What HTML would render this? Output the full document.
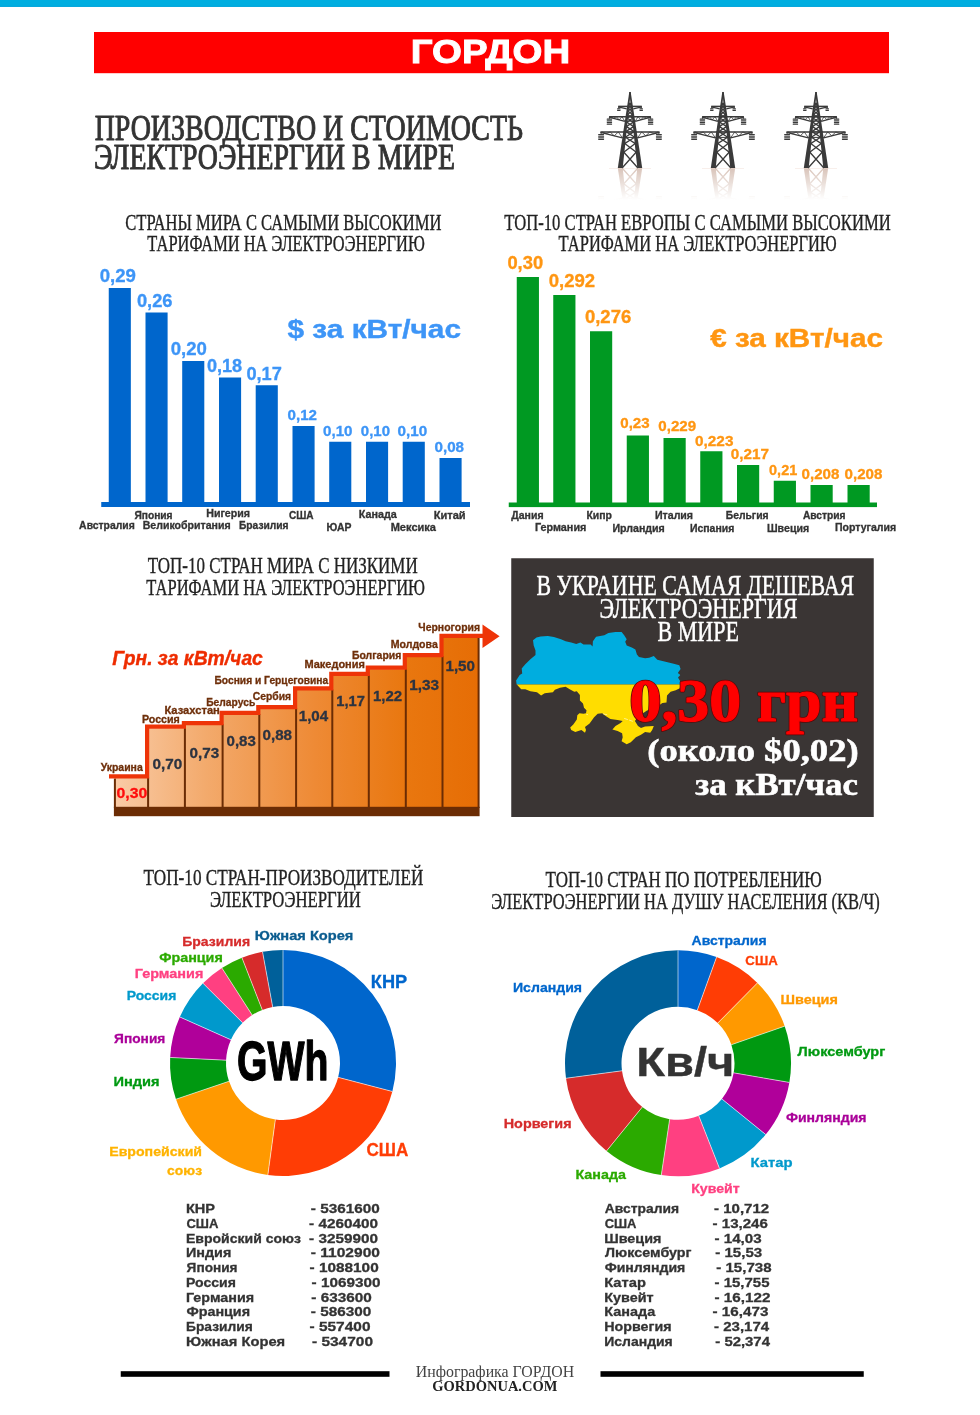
<!DOCTYPE html>
<html lang="ru"><head><meta charset="utf-8"><title>Производство и стоимость электроэнергии в мире</title>
<style>html,body{margin:0;padding:0;background:#fff}body{width:980px;height:1415px;overflow:hidden}svg{display:block}text{white-space:pre}</style>
</head><body>
<svg width="980" height="1415" viewBox="0 0 980 1415">
<defs>
<linearGradient id="gStair" gradientUnits="userSpaceOnUse" x1="115" y1="0" x2="479" y2="0"><stop offset="0" stop-color="#f9cba6"/><stop offset="0.25" stop-color="#f3aa6c"/><stop offset="0.55" stop-color="#ee8a35"/><stop offset="0.8" stop-color="#e9770f"/><stop offset="1" stop-color="#e66d05"/></linearGradient>
<linearGradient id="gRefl" gradientUnits="userSpaceOnUse" x1="0" y1="168" x2="0" y2="200"><stop offset="0" stop-color="#fff" stop-opacity="0.8"/><stop offset="1" stop-color="#fff" stop-opacity="0"/></linearGradient>
<mask id="mRefl" maskUnits="userSpaceOnUse" x="-40" y="160" width="80" height="50"><rect x="-40" y="168" width="80" height="34" fill="url(#gRefl)"/></mask>
<clipPath id="cBlue"><rect x="500" y="620" width="200" height="64.5"/></clipPath>
<clipPath id="cYellow"><rect x="500" y="684.5" width="200" height="80"/></clipPath>
</defs>
<rect width="980" height="1415" fill="#ffffff"/>
<rect x="0" y="0" width="980" height="6.8" fill="#00aee0"/><rect x="0" y="5.8" width="980" height="1" fill="#00a3da"/>
<rect x="94" y="32" width="795" height="41.2" fill="#ff0000"/>
<text x="410.75" y="62.80" font-family="'Liberation Sans', sans-serif" font-weight="bold" font-size="32.4" fill="#ffffff" textLength="159.41" lengthAdjust="spacingAndGlyphs" stroke="#ffffff" stroke-width="0.9">ГОРДОН</text>
<g stroke="#333333" stroke-width="0.95" stroke-linejoin="round">
<text x="94.64" y="140.30" font-family="'Liberation Serif', serif" font-weight="normal" font-size="35.5" fill="#333333" textLength="428.41" lengthAdjust="spacingAndGlyphs">ПРОИЗВОДСТВО И СТОИМОСТЬ</text>
<text x="93.94" y="169.30" font-family="'Liberation Serif', serif" font-weight="normal" font-size="35.5" fill="#333333" textLength="361.03" lengthAdjust="spacingAndGlyphs">ЭЛЕКТРОЭНЕРГИИ В МИРЕ</text>
</g>
<defs><g id="pylon"><polygon stroke="none" points="-0.7,92.0 0.7,92.0 -7.30,168.0 -12.20,168.0"/>
<polygon stroke="none" points="-0.7,92.0 0.7,92.0 12.20,168.0 7.30,168.0"/>
<polygon stroke="none" points="-0.8,98.0 0,91.4 0.8,98.0"/>
<path d="M-7.90,168 L6.11,152.3 M7.90,168 L-6.11,152.3 M-6.31,152.3 L5.23,143.6 M6.31,152.3 L-5.23,143.6 M-5.43,143.6 L4.58,137.2 M5.43,143.6 L-4.58,137.2 M-4.78,137.2 L4.01,131.6 M4.78,137.2 L-4.01,131.6 M-4.21,131.6 L3.51,126.6 M4.21,131.6 L-3.51,126.6 M-3.71,126.6 L3.06,122.2 M3.71,126.6 L-3.06,122.2 M-3.26,122.2 L2.65,118.2 M3.26,122.2 L-2.65,118.2 M-2.85,118.2 L2.29,114.6 M2.85,118.2 L-2.29,114.6 M-2.49,114.6 L1.95,111.2 M2.49,114.6 L-1.95,111.2 M-2.15,111.2 L1.64,108.2 M2.15,111.2 L-1.64,108.2 M-1.84,108.2 L1.36,105.4 M1.84,108.2 L-1.36,105.4 M-1.56,105.4 L1.11,103 M1.56,105.4 L-1.11,103" fill="none" stroke-width="1.3"/>
<path d="M-2.88,106.4 H2.88" fill="none" stroke-width="1"/>
<path d="M-4.42,116.6 H4.42" fill="none" stroke-width="1"/>
<path d="M-5.12,121.2 H5.12" fill="none" stroke-width="1"/>
<path d="M-6.74,131.9 H6.74" fill="none" stroke-width="1"/>
<path d="M-7.57,137.4 H7.57" fill="none" stroke-width="1"/>
<path d="M-11.8,106.4 H11.8" fill="none" stroke-width="1.5"/>
<path d="M-11.80,106.80000000000001 L-3.24,108.8" fill="none" stroke-width="1.25"/>
<path d="M11.80,106.80000000000001 L3.24,108.8" fill="none" stroke-width="1.25"/>
<path d="M-20.9,116.7 H20.9" fill="none" stroke-width="1.5"/>
<path d="M-20.90,117.10000000000001 L-5.15,121.4" fill="none" stroke-width="1.25"/>
<path d="M-19.40,116.70 L-16.55,118.29 L-13.70,116.70 L-10.85,119.84 L-8.00,116.70 L-5.15,121.40" fill="none" stroke-width="0.8"/>
<path d="M20.90,117.10000000000001 L5.15,121.4" fill="none" stroke-width="1.25"/>
<path d="M19.40,116.70 L16.55,118.29 L13.70,116.70 L10.85,119.84 L8.00,116.70 L5.15,121.40" fill="none" stroke-width="0.8"/>
<path d="M-29.5,132.0 H29.5" fill="none" stroke-width="1.5"/>
<path d="M-29.50,132.4 L-7.63,137.8" fill="none" stroke-width="1.25"/>
<path d="M-28.00,132.00 L-23.93,133.78 L-19.85,132.00 L-15.78,135.79 L-11.70,132.00 L-7.63,137.80" fill="none" stroke-width="0.8"/>
<path d="M29.50,132.4 L7.63,137.8" fill="none" stroke-width="1.25"/>
<path d="M28.00,132.00 L23.93,133.78 L19.85,132.00 L15.78,135.79 L11.70,132.00 L7.63,137.80" fill="none" stroke-width="0.8"/>
<rect stroke="none" x="-11.70" y="106.70" width="1" height="1.8"/>
<rect stroke="none" x="-13.00" y="108.30" width="3.6" height="1.15" rx="0.5"/>
<rect stroke="none" x="-13.00" y="109.95" width="3.6" height="1.15" rx="0.5"/>
<rect stroke="none" x="-21.10" y="117.00" width="1" height="1.8"/>
<rect stroke="none" x="-23.30" y="118.60" width="5.4" height="1.15" rx="0.5"/>
<rect stroke="none" x="-23.30" y="120.25" width="5.4" height="1.15" rx="0.5"/>
<rect stroke="none" x="-23.30" y="121.90" width="5.4" height="1.15" rx="0.5"/>
<rect stroke="none" x="-23.30" y="123.55" width="5.4" height="1.15" rx="0.5"/>
<rect stroke="none" x="-29.40" y="132.40" width="1" height="1.8"/>
<rect stroke="none" x="-31.90" y="134.00" width="6.0" height="1.15" rx="0.5"/>
<rect stroke="none" x="-31.90" y="135.65" width="6.0" height="1.15" rx="0.5"/>
<rect stroke="none" x="-31.90" y="137.30" width="6.0" height="1.15" rx="0.5"/>
<rect stroke="none" x="-31.90" y="138.95" width="6.0" height="1.15" rx="0.5"/>
<rect stroke="none" x="10.70" y="106.70" width="1" height="1.8"/>
<rect stroke="none" x="9.40" y="108.30" width="3.6" height="1.15" rx="0.5"/>
<rect stroke="none" x="9.40" y="109.95" width="3.6" height="1.15" rx="0.5"/>
<rect stroke="none" x="20.10" y="117.00" width="1" height="1.8"/>
<rect stroke="none" x="17.90" y="118.60" width="5.4" height="1.15" rx="0.5"/>
<rect stroke="none" x="17.90" y="120.25" width="5.4" height="1.15" rx="0.5"/>
<rect stroke="none" x="17.90" y="121.90" width="5.4" height="1.15" rx="0.5"/>
<rect stroke="none" x="17.90" y="123.55" width="5.4" height="1.15" rx="0.5"/>
<rect stroke="none" x="28.40" y="132.40" width="1" height="1.8"/>
<rect stroke="none" x="25.90" y="134.00" width="6.0" height="1.15" rx="0.5"/>
<rect stroke="none" x="25.90" y="135.65" width="6.0" height="1.15" rx="0.5"/>
<rect stroke="none" x="25.90" y="137.30" width="6.0" height="1.15" rx="0.5"/>
<rect stroke="none" x="25.90" y="138.95" width="6.0" height="1.15" rx="0.5"/></g></defs>
<g transform="translate(630,0)">
<g mask="url(#mRefl)"><use href="#pylon" transform="translate(0,336) scale(1,-1)" fill="#cfb5a8" stroke="#cfb5a8"/></g>
<rect x="-21" y="168" width="42" height="0.7" fill="#ecd9cf" opacity="0.6"/>
<use href="#pylon" fill="#3a3a3a" stroke="#3a3a3a"/>
</g>
<g transform="translate(723,0)">
<g mask="url(#mRefl)"><use href="#pylon" transform="translate(0,336) scale(1,-1)" fill="#cfb5a8" stroke="#cfb5a8"/></g>
<rect x="-21" y="168" width="42" height="0.7" fill="#ecd9cf" opacity="0.6"/>
<use href="#pylon" fill="#3a3a3a" stroke="#3a3a3a"/>
</g>
<g transform="translate(816,0)">
<g mask="url(#mRefl)"><use href="#pylon" transform="translate(0,336) scale(1,-1)" fill="#cfb5a8" stroke="#cfb5a8"/></g>
<rect x="-21" y="168" width="42" height="0.7" fill="#ecd9cf" opacity="0.6"/>
<use href="#pylon" fill="#3a3a3a" stroke="#3a3a3a"/>
</g>
<g stroke="#222" stroke-width="0.35">
<text x="125.26" y="229.50" font-family="'Liberation Serif', serif" font-weight="normal" font-size="23.2" fill="#222222" textLength="316.27" lengthAdjust="spacingAndGlyphs">СТРАНЫ МИРА С САМЫМИ ВЫСОКИМИ</text>
<text x="147.35" y="251.25" font-family="'Liberation Serif', serif" font-weight="normal" font-size="23.2" fill="#222222" textLength="277.45" lengthAdjust="spacingAndGlyphs">ТАРИФАМИ НА ЭЛЕКТРОЭНЕРГИЮ</text>
<text x="504.34" y="229.50" font-family="'Liberation Serif', serif" font-weight="normal" font-size="23.2" fill="#222222" textLength="386.42" lengthAdjust="spacingAndGlyphs">ТОП-10 СТРАН ЕВРОПЫ С САМЫМИ ВЫСОКИМИ</text>
<text x="558.60" y="251.25" font-family="'Liberation Serif', serif" font-weight="normal" font-size="23.2" fill="#222222" textLength="278.20" lengthAdjust="spacingAndGlyphs">ТАРИФАМИ НА ЭЛЕКТРОЭНЕРГИЮ</text>
<text x="147.64" y="572.80" font-family="'Liberation Serif', serif" font-weight="normal" font-size="23.2" fill="#222222" textLength="270.12" lengthAdjust="spacingAndGlyphs">ТОП-10 СТРАН МИРА С НИЗКИМИ</text>
<text x="146.35" y="595.30" font-family="'Liberation Serif', serif" font-weight="normal" font-size="23.2" fill="#222222" textLength="278.70" lengthAdjust="spacingAndGlyphs">ТАРИФАМИ НА ЭЛЕКТРОЭНЕРГИЮ</text>
<text x="143.58" y="884.50" font-family="'Liberation Serif', serif" font-weight="normal" font-size="23.2" fill="#222222" textLength="279.73" lengthAdjust="spacingAndGlyphs">ТОП-10 СТРАН-ПРОИЗВОДИТЕЛЕЙ</text>
<text x="210.01" y="907.00" font-family="'Liberation Serif', serif" font-weight="normal" font-size="23.2" fill="#222222" textLength="150.76" lengthAdjust="spacingAndGlyphs">ЭЛЕКТРОЭНЕРГИИ</text>
<text x="545.59" y="886.60" font-family="'Liberation Serif', serif" font-weight="normal" font-size="23.2" fill="#222222" textLength="276.22" lengthAdjust="spacingAndGlyphs">ТОП-10 СТРАН ПО ПОТРЕБЛЕНИЮ</text>
<text x="491.27" y="909.10" font-family="'Liberation Serif', serif" font-weight="normal" font-size="23.2" fill="#222222" textLength="388.51" lengthAdjust="spacingAndGlyphs">ЭЛЕКТРОЭНЕРГИИ НА ДУШУ НАСЕЛЕНИЯ (КВ/Ч)</text>
</g>
<g fill="#0066cc">
<rect x="101.25" y="502" width="368.75" height="5"/>
<rect x="108.75" y="288" width="22.1" height="215"/>
<rect x="145.5" y="312.5" width="22.1" height="190.5"/>
<rect x="182.2" y="361" width="22.1" height="142"/>
<rect x="219" y="377.5" width="22.1" height="125.5"/>
<rect x="255.7" y="385.25" width="22.1" height="117.75"/>
<rect x="292.5" y="426" width="22.1" height="77"/>
<rect x="329.2" y="441.75" width="22.1" height="61.25"/>
<rect x="366" y="441.75" width="22.1" height="61.25"/>
<rect x="402.7" y="441.75" width="22.1" height="61.25"/>
<rect x="439.5" y="458" width="22.1" height="45"/>
</g>
<text x="99.71" y="282.40" font-family="'Liberation Sans', sans-serif" font-weight="bold" font-size="17.7" fill="#3d95f7" textLength="36.22" lengthAdjust="spacingAndGlyphs" stroke="#3d95f7" stroke-width="0.3">0,29</text>
<text x="136.92" y="306.50" font-family="'Liberation Sans', sans-serif" font-weight="bold" font-size="17.7" fill="#3d95f7" textLength="35.60" lengthAdjust="spacingAndGlyphs" stroke="#3d95f7" stroke-width="0.3">0,26</text>
<text x="170.66" y="354.50" font-family="'Liberation Sans', sans-serif" font-weight="bold" font-size="17.7" fill="#3d95f7" textLength="36.21" lengthAdjust="spacingAndGlyphs" stroke="#3d95f7" stroke-width="0.3">0,20</text>
<text x="206.93" y="371.50" font-family="'Liberation Sans', sans-serif" font-weight="bold" font-size="17.7" fill="#3d95f7" textLength="35.24" lengthAdjust="spacingAndGlyphs" stroke="#3d95f7" stroke-width="0.3">0,18</text>
<text x="246.42" y="379.50" font-family="'Liberation Sans', sans-serif" font-weight="bold" font-size="17.7" fill="#3d95f7" textLength="35.43" lengthAdjust="spacingAndGlyphs" stroke="#3d95f7" stroke-width="0.3">0,17</text>
<text x="287.55" y="420.20" font-family="'Liberation Sans', sans-serif" font-weight="bold" font-size="14" fill="#3d95f7" textLength="29.43" lengthAdjust="spacingAndGlyphs" stroke="#3d95f7" stroke-width="0.3">0,12</text>
<text x="323.05" y="436.40" font-family="'Liberation Sans', sans-serif" font-weight="bold" font-size="14" fill="#3d95f7" textLength="29.43" lengthAdjust="spacingAndGlyphs" stroke="#3d95f7" stroke-width="0.3">0,10</text>
<text x="360.80" y="436.40" font-family="'Liberation Sans', sans-serif" font-weight="bold" font-size="14" fill="#3d95f7" textLength="29.17" lengthAdjust="spacingAndGlyphs" stroke="#3d95f7" stroke-width="0.3">0,10</text>
<text x="397.54" y="436.40" font-family="'Liberation Sans', sans-serif" font-weight="bold" font-size="14" fill="#3d95f7" textLength="29.69" lengthAdjust="spacingAndGlyphs" stroke="#3d95f7" stroke-width="0.3">0,10</text>
<text x="434.54" y="452.00" font-family="'Liberation Sans', sans-serif" font-weight="bold" font-size="14" fill="#3d95f7" textLength="29.53" lengthAdjust="spacingAndGlyphs" stroke="#3d95f7" stroke-width="0.3">0,08</text>
<text x="287.50" y="338.40" font-family="'Liberation Sans', sans-serif" font-weight="bold" font-size="25.4" fill="#3d95f7" textLength="173.54" lengthAdjust="spacingAndGlyphs" stroke="#3d95f7" stroke-width="0.4">$ за кВт/час</text>
<text x="79.14" y="529.25" font-family="'Liberation Sans', sans-serif" font-weight="bold" font-size="10.3" fill="#333333" textLength="55.67" lengthAdjust="spacingAndGlyphs" stroke="#333333" stroke-width="0.3">Австралия</text>
<text x="134.45" y="518.75" font-family="'Liberation Sans', sans-serif" font-weight="bold" font-size="10.3" fill="#333333" textLength="38.13" lengthAdjust="spacingAndGlyphs" stroke="#333333" stroke-width="0.3">Япония</text>
<text x="142.71" y="529.25" font-family="'Liberation Sans', sans-serif" font-weight="bold" font-size="10.3" fill="#333333" textLength="87.85" lengthAdjust="spacingAndGlyphs" stroke="#333333" stroke-width="0.3">Великобритания</text>
<text x="206.21" y="516.75" font-family="'Liberation Sans', sans-serif" font-weight="bold" font-size="10.3" fill="#333333" textLength="43.87" lengthAdjust="spacingAndGlyphs" stroke="#333333" stroke-width="0.3">Нигерия</text>
<text x="238.98" y="529.25" font-family="'Liberation Sans', sans-serif" font-weight="bold" font-size="10.3" fill="#333333" textLength="49.56" lengthAdjust="spacingAndGlyphs" stroke="#333333" stroke-width="0.3">Бразилия</text>
<text x="289.00" y="518.75" font-family="'Liberation Sans', sans-serif" font-weight="bold" font-size="10.3" fill="#333333" textLength="24.65" lengthAdjust="spacingAndGlyphs" stroke="#333333" stroke-width="0.3">США</text>
<text x="326.47" y="530.75" font-family="'Liberation Sans', sans-serif" font-weight="bold" font-size="10.3" fill="#333333" textLength="24.94" lengthAdjust="spacingAndGlyphs" stroke="#333333" stroke-width="0.3">ЮАР</text>
<text x="358.70" y="517.50" font-family="'Liberation Sans', sans-serif" font-weight="bold" font-size="10.3" fill="#333333" textLength="38.04" lengthAdjust="spacingAndGlyphs" stroke="#333333" stroke-width="0.3">Канада</text>
<text x="390.68" y="530.75" font-family="'Liberation Sans', sans-serif" font-weight="bold" font-size="10.3" fill="#333333" textLength="45.30" lengthAdjust="spacingAndGlyphs" stroke="#333333" stroke-width="0.3">Мексика</text>
<text x="433.68" y="518.75" font-family="'Liberation Sans', sans-serif" font-weight="bold" font-size="10.3" fill="#333333" textLength="31.95" lengthAdjust="spacingAndGlyphs" stroke="#333333" stroke-width="0.3">Китай</text>
<g fill="#009922">
<rect x="508.75" y="502.5" width="368.25" height="4.6"/>
<rect x="516.75" y="277" width="22.2" height="226.5"/>
<rect x="553.25" y="295" width="22.2" height="208.5"/>
<rect x="590" y="331.25" width="22.2" height="172.25"/>
<rect x="626.75" y="435.5" width="22.2" height="68.0"/>
<rect x="663.5" y="438" width="22.2" height="65.5"/>
<rect x="700.25" y="451.25" width="22.2" height="52.25"/>
<rect x="737" y="465" width="22.2" height="38.5"/>
<rect x="773.75" y="480.75" width="22.2" height="22.75"/>
<rect x="810.5" y="485" width="22.2" height="18.5"/>
<rect x="847.5" y="485" width="22.2" height="18.5"/>
</g>
<text x="507.42" y="269.00" font-family="'Liberation Sans', sans-serif" font-weight="bold" font-size="17.7" fill="#ff9612" textLength="35.69" lengthAdjust="spacingAndGlyphs" stroke="#ff9612" stroke-width="0.3">0,30</text>
<text x="548.66" y="287.30" font-family="'Liberation Sans', sans-serif" font-weight="bold" font-size="17.7" fill="#ff9612" textLength="46.48" lengthAdjust="spacingAndGlyphs" stroke="#ff9612" stroke-width="0.3">0,292</text>
<text x="584.91" y="323.30" font-family="'Liberation Sans', sans-serif" font-weight="bold" font-size="17.7" fill="#ff9612" textLength="46.39" lengthAdjust="spacingAndGlyphs" stroke="#ff9612" stroke-width="0.3">0,276</text>
<text x="620.30" y="428.20" font-family="'Liberation Sans', sans-serif" font-weight="bold" font-size="14" fill="#ff9612" textLength="29.35" lengthAdjust="spacingAndGlyphs" stroke="#ff9612" stroke-width="0.3">0,23</text>
<text x="658.29" y="430.50" font-family="'Liberation Sans', sans-serif" font-weight="bold" font-size="14" fill="#ff9612" textLength="37.87" lengthAdjust="spacingAndGlyphs" stroke="#ff9612" stroke-width="0.3">0,229</text>
<text x="695.04" y="446.00" font-family="'Liberation Sans', sans-serif" font-weight="bold" font-size="14" fill="#ff9612" textLength="38.39" lengthAdjust="spacingAndGlyphs" stroke="#ff9612" stroke-width="0.3">0,223</text>
<text x="730.79" y="459.00" font-family="'Liberation Sans', sans-serif" font-weight="bold" font-size="14" fill="#ff9612" textLength="38.21" lengthAdjust="spacingAndGlyphs" stroke="#ff9612" stroke-width="0.3">0,217</text>
<text x="769.07" y="474.70" font-family="'Liberation Sans', sans-serif" font-weight="bold" font-size="14" fill="#ff9612" textLength="28.16" lengthAdjust="spacingAndGlyphs" stroke="#ff9612" stroke-width="0.3">0,21</text>
<text x="801.55" y="478.70" font-family="'Liberation Sans', sans-serif" font-weight="bold" font-size="14" fill="#ff9612" textLength="37.79" lengthAdjust="spacingAndGlyphs" stroke="#ff9612" stroke-width="0.3">0,208</text>
<text x="844.55" y="478.70" font-family="'Liberation Sans', sans-serif" font-weight="bold" font-size="14" fill="#ff9612" textLength="37.79" lengthAdjust="spacingAndGlyphs" stroke="#ff9612" stroke-width="0.3">0,208</text>
<text x="710.15" y="346.70" font-family="'Liberation Sans', sans-serif" font-weight="bold" font-size="25.7" fill="#ff9612" textLength="172.79" lengthAdjust="spacingAndGlyphs" stroke="#ff9612" stroke-width="0.4">€ за кВт/час</text>
<text x="511.29" y="518.75" font-family="'Liberation Sans', sans-serif" font-weight="bold" font-size="10.3" fill="#333333" textLength="32.30" lengthAdjust="spacingAndGlyphs" stroke="#333333" stroke-width="0.3">Дания</text>
<text x="534.95" y="531.25" font-family="'Liberation Sans', sans-serif" font-weight="bold" font-size="10.3" fill="#333333" textLength="51.41" lengthAdjust="spacingAndGlyphs" stroke="#333333" stroke-width="0.3">Германия</text>
<text x="586.47" y="518.75" font-family="'Liberation Sans', sans-serif" font-weight="bold" font-size="10.3" fill="#333333" textLength="25.55" lengthAdjust="spacingAndGlyphs" stroke="#333333" stroke-width="0.3">Кипр</text>
<text x="612.46" y="531.50" font-family="'Liberation Sans', sans-serif" font-weight="bold" font-size="10.3" fill="#333333" textLength="52.36" lengthAdjust="spacingAndGlyphs" stroke="#333333" stroke-width="0.3">Ирландия</text>
<text x="654.96" y="518.75" font-family="'Liberation Sans', sans-serif" font-weight="bold" font-size="10.3" fill="#333333" textLength="38.11" lengthAdjust="spacingAndGlyphs" stroke="#333333" stroke-width="0.3">Италия</text>
<text x="689.97" y="531.50" font-family="'Liberation Sans', sans-serif" font-weight="bold" font-size="10.3" fill="#333333" textLength="44.33" lengthAdjust="spacingAndGlyphs" stroke="#333333" stroke-width="0.3">Испания</text>
<text x="725.73" y="518.75" font-family="'Liberation Sans', sans-serif" font-weight="bold" font-size="10.3" fill="#333333" textLength="42.84" lengthAdjust="spacingAndGlyphs" stroke="#333333" stroke-width="0.3">Бельгия</text>
<text x="766.96" y="531.50" font-family="'Liberation Sans', sans-serif" font-weight="bold" font-size="10.3" fill="#333333" textLength="42.14" lengthAdjust="spacingAndGlyphs" stroke="#333333" stroke-width="0.3">Швеция</text>
<text x="802.89" y="518.75" font-family="'Liberation Sans', sans-serif" font-weight="bold" font-size="10.3" fill="#333333" textLength="42.64" lengthAdjust="spacingAndGlyphs" stroke="#333333" stroke-width="0.3">Австрия</text>
<text x="834.97" y="531.25" font-family="'Liberation Sans', sans-serif" font-weight="bold" font-size="10.3" fill="#333333" textLength="61.11" lengthAdjust="spacingAndGlyphs" stroke="#333333" stroke-width="0.3">Португалия</text>
<g fill="url(#gStair)">
<rect x="114.9" y="778.00" width="33.20" height="29.50"/>
<rect x="148.1" y="728.30" width="36.80" height="79.20"/>
<rect x="184.9" y="724.70" width="37.70" height="82.80"/>
<rect x="222.6" y="714.50" width="36.70" height="93.00"/>
<rect x="259.3" y="708.70" width="36.80" height="98.80"/>
<rect x="296.1" y="690.00" width="36.20" height="117.50"/>
<rect x="332.3" y="675.50" width="36.50" height="132.00"/>
<rect x="368.8" y="669.20" width="37.00" height="138.30"/>
<rect x="405.8" y="656.70" width="36.70" height="150.80"/>
<rect x="442.5" y="637.50" width="36.10" height="170.00"/>
</g>
<g fill="#6b2c04">
<rect x="113.90" y="778.50" width="2" height="29.50"/>
<rect x="147.10" y="777.50" width="2" height="30.50"/>
<rect x="183.90" y="727.80" width="2" height="80.20"/>
<rect x="221.60" y="724.20" width="2" height="83.80"/>
<rect x="258.30" y="714.00" width="2" height="94.00"/>
<rect x="295.10" y="708.20" width="2" height="99.80"/>
<rect x="331.30" y="689.50" width="2" height="118.50"/>
<rect x="367.80" y="675.00" width="2" height="133.00"/>
<rect x="404.80" y="668.70" width="2" height="139.30"/>
<rect x="441.50" y="656.20" width="2" height="151.80"/>
<rect x="477.60" y="638.00" width="2" height="170.00"/>
<rect x="113.9" y="806.8" width="365.7" height="9.4"/>
</g>
<path d="M109.00,776.40 L147.10,776.40 L147.10,726.70 L183.90,726.70 L183.90,723.10 L221.60,723.10 L221.60,712.90 L258.30,712.90 L258.30,707.10 L295.10,707.10 L295.10,688.40 L331.30,688.40 L331.30,673.90 L367.80,673.90 L367.80,667.60 L404.80,667.60 L404.80,655.10 L441.50,655.10 L441.50,635.90 L484.00,635.90" fill="none" stroke="#ee3408" stroke-width="4.2" stroke-linejoin="miter"/>
<polygon points="482.5,624.4 499.6,636.2 482.5,648.1" fill="#ee3408"/>
<text x="116.52" y="797.50" font-family="'Liberation Sans', sans-serif" font-weight="bold" font-size="14.2" fill="#ff0d0d" textLength="30.73" lengthAdjust="spacingAndGlyphs" stroke="#ff0d0d" stroke-width="0.3">0,30</text>
<text x="152.54" y="769.25" font-family="'Liberation Sans', sans-serif" font-weight="bold" font-size="14.2" fill="#2c3340" textLength="29.69" lengthAdjust="spacingAndGlyphs" stroke="#2c3340" stroke-width="0.3">0,70</text>
<text x="189.54" y="757.50" font-family="'Liberation Sans', sans-serif" font-weight="bold" font-size="14.2" fill="#2c3340" textLength="29.61" lengthAdjust="spacingAndGlyphs" stroke="#2c3340" stroke-width="0.3">0,73</text>
<text x="226.55" y="745.75" font-family="'Liberation Sans', sans-serif" font-weight="bold" font-size="14.2" fill="#2c3340" textLength="29.35" lengthAdjust="spacingAndGlyphs" stroke="#2c3340" stroke-width="0.3">0,83</text>
<text x="262.54" y="739.50" font-family="'Liberation Sans', sans-serif" font-weight="bold" font-size="14.2" fill="#2c3340" textLength="29.53" lengthAdjust="spacingAndGlyphs" stroke="#2c3340" stroke-width="0.3">0,88</text>
<text x="298.74" y="721.00" font-family="'Liberation Sans', sans-serif" font-weight="bold" font-size="14.2" fill="#2c3340" textLength="29.45" lengthAdjust="spacingAndGlyphs" stroke="#2c3340" stroke-width="0.3">1,04</text>
<text x="336.27" y="706.25" font-family="'Liberation Sans', sans-serif" font-weight="bold" font-size="14.2" fill="#2c3340" textLength="28.69" lengthAdjust="spacingAndGlyphs" stroke="#2c3340" stroke-width="0.3">1,17</text>
<text x="373.00" y="700.50" font-family="'Liberation Sans', sans-serif" font-weight="bold" font-size="14.2" fill="#2c3340" textLength="29.22" lengthAdjust="spacingAndGlyphs" stroke="#2c3340" stroke-width="0.3">1,22</text>
<text x="409.23" y="690.00" font-family="'Liberation Sans', sans-serif" font-weight="bold" font-size="14.2" fill="#2c3340" textLength="29.93" lengthAdjust="spacingAndGlyphs" stroke="#2c3340" stroke-width="0.3">1,33</text>
<text x="445.49" y="671.25" font-family="'Liberation Sans', sans-serif" font-weight="bold" font-size="14.2" fill="#2c3340" textLength="29.49" lengthAdjust="spacingAndGlyphs" stroke="#2c3340" stroke-width="0.3">1,50</text>
<text x="100.65" y="771.25" font-family="'Liberation Sans', sans-serif" font-weight="bold" font-size="10.5" fill="#6e2f0a" textLength="42.11" lengthAdjust="spacingAndGlyphs" stroke="#6e2f0a" stroke-width="0.3">Украина</text>
<text x="141.96" y="722.50" font-family="'Liberation Sans', sans-serif" font-weight="bold" font-size="10.5" fill="#6e2f0a" textLength="37.90" lengthAdjust="spacingAndGlyphs" stroke="#6e2f0a" stroke-width="0.3">Россия</text>
<text x="164.42" y="713.75" font-family="'Liberation Sans', sans-serif" font-weight="bold" font-size="10.5" fill="#6e2f0a" textLength="55.44" lengthAdjust="spacingAndGlyphs" stroke="#6e2f0a" stroke-width="0.3">Казахстан</text>
<text x="206.23" y="706.25" font-family="'Liberation Sans', sans-serif" font-weight="bold" font-size="10.5" fill="#6e2f0a" textLength="49.04" lengthAdjust="spacingAndGlyphs" stroke="#6e2f0a" stroke-width="0.3">Беларусь</text>
<text x="252.74" y="699.50" font-family="'Liberation Sans', sans-serif" font-weight="bold" font-size="10.5" fill="#6e2f0a" textLength="38.34" lengthAdjust="spacingAndGlyphs" stroke="#6e2f0a" stroke-width="0.3">Сербия</text>
<text x="214.48" y="683.75" font-family="'Liberation Sans', sans-serif" font-weight="bold" font-size="10.5" fill="#6e2f0a" textLength="113.80" lengthAdjust="spacingAndGlyphs" stroke="#6e2f0a" stroke-width="0.3">Босния и Герцеговина</text>
<text x="304.44" y="668.00" font-family="'Liberation Sans', sans-serif" font-weight="bold" font-size="10.5" fill="#6e2f0a" textLength="60.44" lengthAdjust="spacingAndGlyphs" stroke="#6e2f0a" stroke-width="0.3">Македония</text>
<text x="351.97" y="658.75" font-family="'Liberation Sans', sans-serif" font-weight="bold" font-size="10.5" fill="#6e2f0a" textLength="49.33" lengthAdjust="spacingAndGlyphs" stroke="#6e2f0a" stroke-width="0.3">Болгария</text>
<text x="390.71" y="648.25" font-family="'Liberation Sans', sans-serif" font-weight="bold" font-size="10.5" fill="#6e2f0a" textLength="47.06" lengthAdjust="spacingAndGlyphs" stroke="#6e2f0a" stroke-width="0.3">Молдова</text>
<text x="418.33" y="630.75" font-family="'Liberation Sans', sans-serif" font-weight="bold" font-size="10.5" fill="#6e2f0a" textLength="61.73" lengthAdjust="spacingAndGlyphs" stroke="#6e2f0a" stroke-width="0.3">Черногория</text>
<text x="112.31" y="664.90" font-family="'Liberation Sans', sans-serif" font-weight="bold" font-style="italic" font-size="20.6" fill="#ee2c00" textLength="150.57" lengthAdjust="spacingAndGlyphs" stroke="#ee2c00" stroke-width="0.4">Грн. за кВт/час</text>
<rect x="511.25" y="558.25" width="362.5" height="258.75" fill="#3a3534"/>
<path d="M533.0,640.3 L536.5,637.6 L540.6,636.4 L547.8,636.0 L553.9,637.0 L561.0,639.3 L565.6,641.3 L571.2,642.6 L576.3,643.9 L580.4,642.6 L583.5,644.6 L590.6,644.4 L592.6,646.6 L592.9,641.3 L596.1,636.7 L604.3,635.2 L608.4,633.0 L615.5,631.9 L621.6,631.9 L624.2,635.2 L626.7,639.3 L625.2,641.8 L626.7,645.4 L631.8,647.4 L635.4,649.5 L636.9,654.6 L639,657.1 L645.1,658.2 L649.2,657.7 L653.8,656.1 L657.3,659.7 L661.4,660.7 L667.6,662.2 L673.7,663.8 L679.3,665.3 L680.6,668.9 L677.8,673 L680.3,675 L678,677.6 L680.6,682.1 L679.8,688.3 L675.7,690.3 L670.6,691.8 L667,695.4 L666.5,702.6 L662.4,703.1 L656,707.5 L647,710.5 L641,714.5 L635.9,719.4 L634.9,720.9 L638,726 L641,728.1 L645.1,726.5 L653.8,726 L652.2,730.1 L650.2,732.7 L645.1,732.1 L641,734.7 L635.9,737.2 L630.8,742.3 L626.7,744.2 L621.6,741.3 L622.7,737.2 L622.1,733.2 L617.6,731.1 L612.4,729.6 L615.5,726 L620.6,723 L622.7,720.9 L617.6,719.9 L610.4,718.9 L605.3,715.8 L602.2,713.3 L597.7,713.8 L594.1,717.3 L589.6,723.5 L585,727 L586,730.1 L585,732.7 L581.4,730.1 L575.3,732.1 L571.2,730.1 L570.2,727.6 L573.3,724.5 L576.8,719.4 L577.3,715.3 L579.4,713.3 L583.5,713.8 L586,713.3 L586.5,710.2 L584,707.7 L583,703.6 L579.9,700.5 L579.9,694.9 L576.8,691.3 L574.3,691.8 L569.7,689.3 L565.6,686.7 L560,687.8 L554.9,689.8 L552.9,692.3 L544.7,693.2 L541.1,695.4 L537,692.3 L530.4,691.3 L525.3,689.3 L521.2,689.3 L516.6,684.2 L516.1,680.6 L519.7,675 L522.2,673.5 L521.7,668.4 L525.3,664.3 L530.4,659.2 L535.5,655.1 L535.5,650.5 L533.7,645.4 Z" fill="#00addf" clip-path="url(#cBlue)"/>
<path d="M533.0,640.3 L536.5,637.6 L540.6,636.4 L547.8,636.0 L553.9,637.0 L561.0,639.3 L565.6,641.3 L571.2,642.6 L576.3,643.9 L580.4,642.6 L583.5,644.6 L590.6,644.4 L592.6,646.6 L592.9,641.3 L596.1,636.7 L604.3,635.2 L608.4,633.0 L615.5,631.9 L621.6,631.9 L624.2,635.2 L626.7,639.3 L625.2,641.8 L626.7,645.4 L631.8,647.4 L635.4,649.5 L636.9,654.6 L639,657.1 L645.1,658.2 L649.2,657.7 L653.8,656.1 L657.3,659.7 L661.4,660.7 L667.6,662.2 L673.7,663.8 L679.3,665.3 L680.6,668.9 L677.8,673 L680.3,675 L678,677.6 L680.6,682.1 L679.8,688.3 L675.7,690.3 L670.6,691.8 L667,695.4 L666.5,702.6 L662.4,703.1 L656,707.5 L647,710.5 L641,714.5 L635.9,719.4 L634.9,720.9 L638,726 L641,728.1 L645.1,726.5 L653.8,726 L652.2,730.1 L650.2,732.7 L645.1,732.1 L641,734.7 L635.9,737.2 L630.8,742.3 L626.7,744.2 L621.6,741.3 L622.7,737.2 L622.1,733.2 L617.6,731.1 L612.4,729.6 L615.5,726 L620.6,723 L622.7,720.9 L617.6,719.9 L610.4,718.9 L605.3,715.8 L602.2,713.3 L597.7,713.8 L594.1,717.3 L589.6,723.5 L585,727 L586,730.1 L585,732.7 L581.4,730.1 L575.3,732.1 L571.2,730.1 L570.2,727.6 L573.3,724.5 L576.8,719.4 L577.3,715.3 L579.4,713.3 L583.5,713.8 L586,713.3 L586.5,710.2 L584,707.7 L583,703.6 L579.9,700.5 L579.9,694.9 L576.8,691.3 L574.3,691.8 L569.7,689.3 L565.6,686.7 L560,687.8 L554.9,689.8 L552.9,692.3 L544.7,693.2 L541.1,695.4 L537,692.3 L530.4,691.3 L525.3,689.3 L521.2,689.3 L516.6,684.2 L516.1,680.6 L519.7,675 L522.2,673.5 L521.7,668.4 L525.3,664.3 L530.4,659.2 L535.5,655.1 L535.5,650.5 L533.7,645.4 Z" fill="#ffdd00" clip-path="url(#cYellow)"/>
<path d="M586.8,714.2 l1.4,1.4 M603.5,714 l4,0.9 M624.5,718.5 l3,1 M629.5,720.2 l3.5,1.2" stroke="#fff" stroke-width="0.9" fill="none" stroke-dasharray="1.2 0.8"/>
<g stroke="#fff" stroke-width="0.45">
<text x="536.57" y="594.50" font-family="'Liberation Serif', serif" font-weight="normal" font-size="28.6" fill="#ffffff" textLength="317.54" lengthAdjust="spacingAndGlyphs">В УКРАИНЕ САМАЯ ДЕШЕВАЯ</text>
<text x="599.51" y="617.50" font-family="'Liberation Serif', serif" font-weight="normal" font-size="28.6" fill="#ffffff" textLength="197.85" lengthAdjust="spacingAndGlyphs">ЭЛЕКТРОЭНЕРГИЯ</text>
<text x="657.56" y="640.90" font-family="'Liberation Serif', serif" font-weight="normal" font-size="28.6" fill="#ffffff" textLength="81.32" lengthAdjust="spacingAndGlyphs">В МИРЕ</text>
</g>
<text x="629.50" y="721.10" font-family="'Liberation Serif', serif" font-weight="bold" font-size="61" fill="#5a0808" textLength="228.84" lengthAdjust="spacingAndGlyphs" stroke="#5a0808" stroke-width="2.6" stroke-linejoin="round">0,30 грн</text>
<text x="629.50" y="721.10" font-family="'Liberation Serif', serif" font-weight="bold" font-size="61" fill="#ff0000" textLength="228.84" lengthAdjust="spacingAndGlyphs" stroke="#ff0000" stroke-width="1.1" stroke-linejoin="round">0,30 грн</text>
<text x="647.25" y="760.60" font-family="'Liberation Serif', serif" font-weight="bold" font-size="32" fill="#ffffff" textLength="211.38" lengthAdjust="spacingAndGlyphs" stroke="#ffffff" stroke-width="0.6">(около $0,02)</text>
<text x="695.25" y="795.00" font-family="'Liberation Serif', serif" font-weight="bold" font-size="31.5" fill="#ffffff" textLength="162.61" lengthAdjust="spacingAndGlyphs" stroke="#ffffff" stroke-width="0.6">за кВт/час</text>
<path d="M283.00,950.00 A113,113 0 0 1 392.35,1091.47 L338.16,1077.36 A57,57 0 0 0 283.00,1006.00 Z" fill="#0066cc"/>
<path d="M392.35,1091.47 A113,113 0 0 1 267.85,1174.98 L275.36,1119.49 A57,57 0 0 0 338.16,1077.36 Z" fill="#ff3d05"/>
<path d="M267.85,1174.98 A113,113 0 0 1 175.97,1099.23 L229.01,1081.28 A57,57 0 0 0 275.36,1119.49 Z" fill="#ff9900"/>
<path d="M175.97,1099.23 A113,113 0 0 1 170.14,1057.46 L226.07,1060.20 A57,57 0 0 0 229.01,1081.28 Z" fill="#009911"/>
<path d="M170.14,1057.46 A113,113 0 0 1 179.80,1016.97 L230.94,1039.78 A57,57 0 0 0 226.07,1060.20 Z" fill="#b0009a"/>
<path d="M179.80,1016.97 A113,113 0 0 1 202.95,983.24 L242.62,1022.77 A57,57 0 0 0 230.94,1039.78 Z" fill="#0099cc"/>
<path d="M202.95,983.24 A113,113 0 0 1 221.88,967.95 L252.17,1015.06 A57,57 0 0 0 242.62,1022.77 Z" fill="#ff4081"/>
<path d="M221.88,967.95 A113,113 0 0 1 241.94,957.72 L262.29,1009.90 A57,57 0 0 0 252.17,1015.06 Z" fill="#2baa00"/>
<path d="M241.94,957.72 A113,113 0 0 1 262.54,951.87 L272.68,1006.94 A57,57 0 0 0 262.29,1009.90 Z" fill="#d62b2b"/>
<path d="M262.54,951.87 A113,113 0 0 1 283.00,950.00 L283.00,1006.00 A57,57 0 0 0 272.68,1006.94 Z" fill="#00609a"/>
<path d="M283.00,1006.00 L283.00,950.00 M338.16,1077.36 L392.35,1091.47 M275.36,1119.49 L267.85,1174.98 M229.01,1081.28 L175.97,1099.23 M226.07,1060.20 L170.14,1057.46 M230.94,1039.78 L179.80,1016.97 M242.62,1022.77 L202.95,983.24 M252.17,1015.06 L221.88,967.95 M262.29,1009.90 L241.94,957.72 M272.68,1006.94 L262.54,951.87" stroke="#ffffff" stroke-opacity="0.65" stroke-width="0.9" fill="none"/>
<path d="M678.00,950.30 A113,113 0 0 1 716.58,957.09 L697.29,1010.20 A56.5,56.5 0 0 0 678.00,1006.80 Z" fill="#0066cc"/>
<path d="M716.58,957.09 A113,113 0 0 1 757.42,982.91 L717.71,1023.11 A56.5,56.5 0 0 0 697.29,1010.20 Z" fill="#ff3d05"/>
<path d="M757.42,982.91 A113,113 0 0 1 784.72,1026.14 L731.36,1044.72 A56.5,56.5 0 0 0 717.71,1023.11 Z" fill="#ff9900"/>
<path d="M784.72,1026.14 A113,113 0 0 1 789.37,1082.43 L733.68,1072.87 A56.5,56.5 0 0 0 731.36,1044.72 Z" fill="#009911"/>
<path d="M789.37,1082.43 A113,113 0 0 1 765.72,1134.53 L721.86,1098.92 A56.5,56.5 0 0 0 733.68,1072.87 Z" fill="#b0009a"/>
<path d="M765.72,1134.53 A113,113 0 0 1 719.52,1168.40 L698.76,1115.85 A56.5,56.5 0 0 0 721.86,1098.92 Z" fill="#0099cc"/>
<path d="M719.52,1168.40 A113,113 0 0 1 661.31,1175.06 L669.66,1119.18 A56.5,56.5 0 0 0 698.76,1115.85 Z" fill="#ff4081"/>
<path d="M661.31,1175.06 A113,113 0 0 1 606.59,1150.88 L642.30,1107.09 A56.5,56.5 0 0 0 669.66,1119.18 Z" fill="#2baa00"/>
<path d="M606.59,1150.88 A113,113 0 0 1 566.00,1078.27 L622.00,1070.79 A56.5,56.5 0 0 0 642.30,1107.09 Z" fill="#d62b2b"/>
<path d="M566.00,1078.27 A113,113 0 0 1 678.00,950.30 L678.00,1006.80 A56.5,56.5 0 0 0 622.00,1070.79 Z" fill="#00609a"/>
<path d="M678.00,1006.80 L678.00,950.30 M697.29,1010.20 L716.58,957.09 M717.71,1023.11 L757.42,982.91 M731.36,1044.72 L784.72,1026.14 M733.68,1072.87 L789.37,1082.43 M721.86,1098.92 L765.72,1134.53 M698.76,1115.85 L719.52,1168.40 M669.66,1119.18 L661.31,1175.06 M642.30,1107.09 L606.59,1150.88 M622.00,1070.79 L566.00,1078.27" stroke="#ffffff" stroke-opacity="0.65" stroke-width="0.9" fill="none"/>
<text x="236.98" y="1080.20" font-family="'Liberation Sans', sans-serif" font-weight="bold" font-size="55.6" fill="#000000" textLength="91.42" lengthAdjust="spacingAndGlyphs" stroke="#000000" stroke-width="1.3" stroke-linejoin="round">GWh</text>
<text x="636.24" y="1076.30" font-family="'Liberation Sans', sans-serif" font-weight="bold" font-size="40.7" fill="#333333" textLength="98.09" lengthAdjust="spacingAndGlyphs" stroke="#333333" stroke-width="0.4">Кв/ч</text>
<text x="254.70" y="940.00" font-family="'Liberation Sans', sans-serif" font-weight="bold" font-size="13.3" fill="#0b5c8f" textLength="98.69" lengthAdjust="spacingAndGlyphs" stroke="#0b5c8f" stroke-width="0.3">Южная Корея</text>
<text x="182.24" y="946.25" font-family="'Liberation Sans', sans-serif" font-weight="bold" font-size="13.3" fill="#d62b2b" textLength="67.82" lengthAdjust="spacingAndGlyphs" stroke="#d62b2b" stroke-width="0.3">Бразилия</text>
<text x="159.15" y="961.75" font-family="'Liberation Sans', sans-serif" font-weight="bold" font-size="13.3" fill="#2baa00" textLength="63.67" lengthAdjust="spacingAndGlyphs" stroke="#2baa00" stroke-width="0.3">Франция</text>
<text x="134.71" y="977.50" font-family="'Liberation Sans', sans-serif" font-weight="bold" font-size="13.3" fill="#ff4081" textLength="68.65" lengthAdjust="spacingAndGlyphs" stroke="#ff4081" stroke-width="0.3">Германия</text>
<text x="126.74" y="1000.00" font-family="'Liberation Sans', sans-serif" font-weight="bold" font-size="13.3" fill="#0099cc" textLength="49.59" lengthAdjust="spacingAndGlyphs" stroke="#0099cc" stroke-width="0.3">Россия</text>
<text x="114.13" y="1042.50" font-family="'Liberation Sans', sans-serif" font-weight="bold" font-size="13.3" fill="#aa0099" textLength="51.20" lengthAdjust="spacingAndGlyphs" stroke="#aa0099" stroke-width="0.3">Япония</text>
<text x="113.45" y="1085.50" font-family="'Liberation Sans', sans-serif" font-weight="bold" font-size="13.3" fill="#009911" textLength="46.19" lengthAdjust="spacingAndGlyphs" stroke="#009911" stroke-width="0.3">Индия</text>
<text x="109.23" y="1156.25" font-family="'Liberation Sans', sans-serif" font-weight="bold" font-size="13.3" fill="#ffb300" textLength="92.85" lengthAdjust="spacingAndGlyphs" stroke="#ffb300" stroke-width="0.3">Европейский</text>
<text x="167.09" y="1174.50" font-family="'Liberation Sans', sans-serif" font-weight="bold" font-size="13.3" fill="#ffb300" textLength="34.97" lengthAdjust="spacingAndGlyphs" stroke="#ffb300" stroke-width="0.3">союз</text>
<text x="370.77" y="987.70" font-family="'Liberation Sans', sans-serif" font-weight="bold" font-size="17.6" fill="#0066cc" textLength="36.42" lengthAdjust="spacingAndGlyphs" stroke="#0066cc" stroke-width="0.3">КНР</text>
<text x="366.47" y="1156.10" font-family="'Liberation Sans', sans-serif" font-weight="bold" font-size="17.6" fill="#ff3d05" textLength="41.78" lengthAdjust="spacingAndGlyphs" stroke="#ff3d05" stroke-width="0.3">США</text>
<text x="691.55" y="945.00" font-family="'Liberation Sans', sans-serif" font-weight="bold" font-size="13.3" fill="#0066cc" textLength="75.01" lengthAdjust="spacingAndGlyphs" stroke="#0066cc" stroke-width="0.3">Австралия</text>
<text x="745.37" y="965.00" font-family="'Liberation Sans', sans-serif" font-weight="bold" font-size="13.3" fill="#ff3d05" textLength="32.37" lengthAdjust="spacingAndGlyphs" stroke="#ff3d05" stroke-width="0.3">США</text>
<text x="780.46" y="1004.25" font-family="'Liberation Sans', sans-serif" font-weight="bold" font-size="13.3" fill="#ff9900" textLength="57.41" lengthAdjust="spacingAndGlyphs" stroke="#ff9900" stroke-width="0.3">Швеция</text>
<text x="797.58" y="1055.75" font-family="'Liberation Sans', sans-serif" font-weight="bold" font-size="13.3" fill="#009911" textLength="87.68" lengthAdjust="spacingAndGlyphs" stroke="#009911" stroke-width="0.3">Люксембург</text>
<text x="785.91" y="1121.75" font-family="'Liberation Sans', sans-serif" font-weight="bold" font-size="13.3" fill="#aa0099" textLength="80.65" lengthAdjust="spacingAndGlyphs" stroke="#aa0099" stroke-width="0.3">Финляндия</text>
<text x="750.44" y="1166.75" font-family="'Liberation Sans', sans-serif" font-weight="bold" font-size="13.3" fill="#0099cc" textLength="42.01" lengthAdjust="spacingAndGlyphs" stroke="#0099cc" stroke-width="0.3">Катар</text>
<text x="691.23" y="1193.00" font-family="'Liberation Sans', sans-serif" font-weight="bold" font-size="13.3" fill="#ff4081" textLength="48.53" lengthAdjust="spacingAndGlyphs" stroke="#ff4081" stroke-width="0.3">Кувейт</text>
<text x="575.47" y="1179.25" font-family="'Liberation Sans', sans-serif" font-weight="bold" font-size="13.3" fill="#2baa00" textLength="50.48" lengthAdjust="spacingAndGlyphs" stroke="#2baa00" stroke-width="0.3">Канада</text>
<text x="503.72" y="1127.50" font-family="'Liberation Sans', sans-serif" font-weight="bold" font-size="13.3" fill="#d62b2b" textLength="67.84" lengthAdjust="spacingAndGlyphs" stroke="#d62b2b" stroke-width="0.3">Норвегия</text>
<text x="512.98" y="991.75" font-family="'Liberation Sans', sans-serif" font-weight="bold" font-size="13.3" fill="#0066cc" textLength="69.08" lengthAdjust="spacingAndGlyphs" stroke="#0066cc" stroke-width="0.3">Исландия</text>
<text x="185.95" y="1213.00" font-family="'Liberation Sans', sans-serif" font-weight="bold" font-size="13.4" fill="#333333" textLength="29.13" lengthAdjust="spacingAndGlyphs" stroke="#333333" stroke-width="0.3">КНР</text>
<text x="310.79" y="1213.00" font-family="'Liberation Sans', sans-serif" font-weight="bold" font-size="13.4" fill="#333333" textLength="68.91" lengthAdjust="spacingAndGlyphs" stroke="#333333" stroke-width="0.3">- 5361600</text>
<text x="186.38" y="1227.75" font-family="'Liberation Sans', sans-serif" font-weight="bold" font-size="13.4" fill="#333333" textLength="32.06" lengthAdjust="spacingAndGlyphs" stroke="#333333" stroke-width="0.3">США</text>
<text x="309.04" y="1227.75" font-family="'Liberation Sans', sans-serif" font-weight="bold" font-size="13.4" fill="#333333" textLength="68.91" lengthAdjust="spacingAndGlyphs" stroke="#333333" stroke-width="0.3">- 4260400</text>
<text x="185.99" y="1242.50" font-family="'Liberation Sans', sans-serif" font-weight="bold" font-size="13.4" fill="#333333" textLength="115.04" lengthAdjust="spacingAndGlyphs" stroke="#333333" stroke-width="0.3">Евройский союз</text>
<text x="309.04" y="1242.50" font-family="'Liberation Sans', sans-serif" font-weight="bold" font-size="13.4" fill="#333333" textLength="68.91" lengthAdjust="spacingAndGlyphs" stroke="#333333" stroke-width="0.3">- 3259900</text>
<text x="185.96" y="1257.25" font-family="'Liberation Sans', sans-serif" font-weight="bold" font-size="13.4" fill="#333333" textLength="45.40" lengthAdjust="spacingAndGlyphs" stroke="#333333" stroke-width="0.3">Индия</text>
<text x="310.78" y="1257.25" font-family="'Liberation Sans', sans-serif" font-weight="bold" font-size="13.4" fill="#333333" textLength="69.18" lengthAdjust="spacingAndGlyphs" stroke="#333333" stroke-width="0.3">- 1102900</text>
<text x="186.63" y="1272.00" font-family="'Liberation Sans', sans-serif" font-weight="bold" font-size="13.4" fill="#333333" textLength="50.94" lengthAdjust="spacingAndGlyphs" stroke="#333333" stroke-width="0.3">Япония</text>
<text x="309.54" y="1272.00" font-family="'Liberation Sans', sans-serif" font-weight="bold" font-size="13.4" fill="#333333" textLength="69.16" lengthAdjust="spacingAndGlyphs" stroke="#333333" stroke-width="0.3">- 1088100</text>
<text x="185.99" y="1286.75" font-family="'Liberation Sans', sans-serif" font-weight="bold" font-size="13.4" fill="#333333" textLength="49.85" lengthAdjust="spacingAndGlyphs" stroke="#333333" stroke-width="0.3">Россия</text>
<text x="311.54" y="1286.75" font-family="'Liberation Sans', sans-serif" font-weight="bold" font-size="13.4" fill="#333333" textLength="68.91" lengthAdjust="spacingAndGlyphs" stroke="#333333" stroke-width="0.3">- 1069300</text>
<text x="185.97" y="1301.50" font-family="'Liberation Sans', sans-serif" font-weight="bold" font-size="13.4" fill="#333333" textLength="68.13" lengthAdjust="spacingAndGlyphs" stroke="#333333" stroke-width="0.3">Германия</text>
<text x="311.29" y="1301.50" font-family="'Liberation Sans', sans-serif" font-weight="bold" font-size="13.4" fill="#333333" textLength="60.47" lengthAdjust="spacingAndGlyphs" stroke="#333333" stroke-width="0.3">- 633600</text>
<text x="186.40" y="1316.25" font-family="'Liberation Sans', sans-serif" font-weight="bold" font-size="13.4" fill="#333333" textLength="63.67" lengthAdjust="spacingAndGlyphs" stroke="#333333" stroke-width="0.3">Франция</text>
<text x="310.79" y="1316.25" font-family="'Liberation Sans', sans-serif" font-weight="bold" font-size="13.4" fill="#333333" textLength="60.47" lengthAdjust="spacingAndGlyphs" stroke="#333333" stroke-width="0.3">- 586300</text>
<text x="186.00" y="1331.00" font-family="'Liberation Sans', sans-serif" font-weight="bold" font-size="13.4" fill="#333333" textLength="66.79" lengthAdjust="spacingAndGlyphs" stroke="#333333" stroke-width="0.3">Бразилия</text>
<text x="309.53" y="1331.00" font-family="'Liberation Sans', sans-serif" font-weight="bold" font-size="13.4" fill="#333333" textLength="60.98" lengthAdjust="spacingAndGlyphs" stroke="#333333" stroke-width="0.3">- 557400</text>
<text x="185.94" y="1345.75" font-family="'Liberation Sans', sans-serif" font-weight="bold" font-size="13.4" fill="#333333" textLength="99.20" lengthAdjust="spacingAndGlyphs" stroke="#333333" stroke-width="0.3">Южная Корея</text>
<text x="312.03" y="1345.75" font-family="'Liberation Sans', sans-serif" font-weight="bold" font-size="13.4" fill="#333333" textLength="60.98" lengthAdjust="spacingAndGlyphs" stroke="#333333" stroke-width="0.3">- 534700</text>
<text x="604.80" y="1213.00" font-family="'Liberation Sans', sans-serif" font-weight="bold" font-size="13.4" fill="#333333" textLength="74.25" lengthAdjust="spacingAndGlyphs" stroke="#333333" stroke-width="0.3">Австралия</text>
<text x="714.05" y="1213.00" font-family="'Liberation Sans', sans-serif" font-weight="bold" font-size="13.4" fill="#333333" textLength="55.15" lengthAdjust="spacingAndGlyphs" stroke="#333333" stroke-width="0.3">- 10,712</text>
<text x="604.63" y="1227.75" font-family="'Liberation Sans', sans-serif" font-weight="bold" font-size="13.4" fill="#333333" textLength="31.85" lengthAdjust="spacingAndGlyphs" stroke="#333333" stroke-width="0.3">США</text>
<text x="712.55" y="1227.75" font-family="'Liberation Sans', sans-serif" font-weight="bold" font-size="13.4" fill="#333333" textLength="55.32" lengthAdjust="spacingAndGlyphs" stroke="#333333" stroke-width="0.3">- 13,246</text>
<text x="604.22" y="1242.50" font-family="'Liberation Sans', sans-serif" font-weight="bold" font-size="13.4" fill="#333333" textLength="57.15" lengthAdjust="spacingAndGlyphs" stroke="#333333" stroke-width="0.3">Швеция</text>
<text x="714.54" y="1242.50" font-family="'Liberation Sans', sans-serif" font-weight="bold" font-size="13.4" fill="#333333" textLength="47.14" lengthAdjust="spacingAndGlyphs" stroke="#333333" stroke-width="0.3">- 14,03</text>
<text x="605.08" y="1257.25" font-family="'Liberation Sans', sans-serif" font-weight="bold" font-size="13.4" fill="#333333" textLength="86.43" lengthAdjust="spacingAndGlyphs" stroke="#333333" stroke-width="0.3">Люксембург</text>
<text x="715.30" y="1257.25" font-family="'Liberation Sans', sans-serif" font-weight="bold" font-size="13.4" fill="#333333" textLength="46.88" lengthAdjust="spacingAndGlyphs" stroke="#333333" stroke-width="0.3">- 15,53</text>
<text x="604.66" y="1272.00" font-family="'Liberation Sans', sans-serif" font-weight="bold" font-size="13.4" fill="#333333" textLength="80.65" lengthAdjust="spacingAndGlyphs" stroke="#333333" stroke-width="0.3">Финляндия</text>
<text x="716.30" y="1272.00" font-family="'Liberation Sans', sans-serif" font-weight="bold" font-size="13.4" fill="#333333" textLength="55.25" lengthAdjust="spacingAndGlyphs" stroke="#333333" stroke-width="0.3">- 15,738</text>
<text x="604.19" y="1286.75" font-family="'Liberation Sans', sans-serif" font-weight="bold" font-size="13.4" fill="#333333" textLength="41.75" lengthAdjust="spacingAndGlyphs" stroke="#333333" stroke-width="0.3">Катар</text>
<text x="714.55" y="1286.75" font-family="'Liberation Sans', sans-serif" font-weight="bold" font-size="13.4" fill="#333333" textLength="54.92" lengthAdjust="spacingAndGlyphs" stroke="#333333" stroke-width="0.3">- 15,755</text>
<text x="604.22" y="1301.50" font-family="'Liberation Sans', sans-serif" font-weight="bold" font-size="13.4" fill="#333333" textLength="49.30" lengthAdjust="spacingAndGlyphs" stroke="#333333" stroke-width="0.3">Кувейт</text>
<text x="714.54" y="1301.50" font-family="'Liberation Sans', sans-serif" font-weight="bold" font-size="13.4" fill="#333333" textLength="55.91" lengthAdjust="spacingAndGlyphs" stroke="#333333" stroke-width="0.3">- 16,122</text>
<text x="604.21" y="1316.25" font-family="'Liberation Sans', sans-serif" font-weight="bold" font-size="13.4" fill="#333333" textLength="50.99" lengthAdjust="spacingAndGlyphs" stroke="#333333" stroke-width="0.3">Канада</text>
<text x="712.54" y="1316.25" font-family="'Liberation Sans', sans-serif" font-weight="bold" font-size="13.4" fill="#333333" textLength="55.83" lengthAdjust="spacingAndGlyphs" stroke="#333333" stroke-width="0.3">- 16,473</text>
<text x="604.22" y="1331.00" font-family="'Liberation Sans', sans-serif" font-weight="bold" font-size="13.4" fill="#333333" textLength="67.33" lengthAdjust="spacingAndGlyphs" stroke="#333333" stroke-width="0.3">Норвегия</text>
<text x="714.05" y="1331.00" font-family="'Liberation Sans', sans-serif" font-weight="bold" font-size="13.4" fill="#333333" textLength="55.12" lengthAdjust="spacingAndGlyphs" stroke="#333333" stroke-width="0.3">- 23,174</text>
<text x="604.24" y="1345.75" font-family="'Liberation Sans', sans-serif" font-weight="bold" font-size="13.4" fill="#333333" textLength="68.56" lengthAdjust="spacingAndGlyphs" stroke="#333333" stroke-width="0.3">Исландия</text>
<text x="715.30" y="1345.75" font-family="'Liberation Sans', sans-serif" font-weight="bold" font-size="13.4" fill="#333333" textLength="54.61" lengthAdjust="spacingAndGlyphs" stroke="#333333" stroke-width="0.3">- 52,374</text>
<rect x="120.75" y="1371.2" width="268.75" height="5.6" fill="#000"/>
<rect x="600.5" y="1371.2" width="263.25" height="5.6" fill="#000"/>
<text x="415.77" y="1376.75" font-family="'Liberation Serif', serif" font-weight="normal" font-size="16.2" fill="#444444" textLength="158.37" lengthAdjust="spacingAndGlyphs">Инфографика ГОРДОН</text>
<text x="432.28" y="1390.75" font-family="'Liberation Serif', serif" font-weight="bold" font-size="14.9" fill="#222222" textLength="125.13" lengthAdjust="spacingAndGlyphs">GORDONUA.COM</text>
</svg>
</body></html>
